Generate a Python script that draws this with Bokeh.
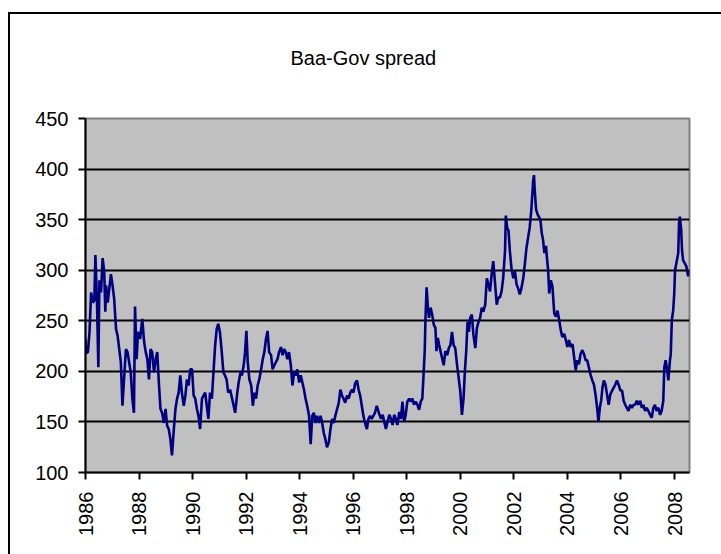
import math
from bokeh.plotting import figure
from bokeh.models import Range1d, FixedTicker, ColumnDataSource
from bokeh.embed import file_html
from bokeh.resources import INLINE

# ---- data (decimal year, spread in bp) ----
years_1986_1991 = [
    1986.00, 1986.02, 1986.09, 1986.15, 1986.21, 1986.27, 1986.33, 1986.37, 1986.43, 1986.48,
    1986.52, 1986.58, 1986.64, 1986.70, 1986.74, 1986.77, 1986.83, 1986.89, 1986.95, 1987.01,
    1987.07, 1987.14, 1987.20, 1987.26, 1987.32, 1987.38, 1987.44, 1987.51, 1987.57, 1987.63,
    1987.69, 1987.75, 1987.81, 1987.85, 1987.91, 1987.96, 1988.04, 1988.12, 1988.19, 1988.25,
    1988.31, 1988.37, 1988.43, 1988.49, 1988.56, 1988.62, 1988.68, 1988.74, 1988.80, 1988.86,
    1988.93, 1988.99, 1989.05, 1989.11, 1989.17, 1989.23, 1989.30, 1989.36, 1989.42, 1989.48,
    1989.54, 1989.60, 1989.67, 1989.73, 1989.79, 1989.85, 1989.91, 1989.98, 1990.04, 1990.10,
    1990.16, 1990.22, 1990.28, 1990.35, 1990.41, 1990.47, 1990.53, 1990.59, 1990.65, 1990.72,
    1990.78, 1990.84, 1990.90, 1990.96, 1991.02, 1991.09, 1991.15, 1991.21, 1991.27, 1991.33,
    1991.40,
]
spread_1986_1991 = [
    232, 218, 219, 239, 278, 268, 270, 315, 268, 204,
    290, 278, 312, 298, 259, 285, 268, 282, 296, 285,
    272, 242, 235, 222, 209, 166, 192, 222, 219, 209,
    199, 173, 159, 264, 212, 239, 232, 252, 229, 219,
    212, 192, 222, 219, 199, 212, 219, 189, 163, 159,
    149, 163, 146, 143, 133, 117, 143, 163, 173, 179,
    196, 179, 166, 176, 192, 186, 202, 202, 176, 173,
    163, 156, 143, 173, 176, 179, 166, 153, 179, 173,
    199, 225, 242, 247, 239, 219, 199, 196, 192, 179,
    182,
]

years_1991_1996 = [
    1991.51, 1991.59, 1991.67, 1991.72, 1991.79, 1991.84, 1991.91, 1991.96, 1992.01, 1992.06,
    1992.12, 1992.19, 1992.25, 1992.31, 1992.37, 1992.43, 1992.49, 1992.56, 1992.62, 1992.68,
    1992.74, 1992.80, 1992.86, 1992.93, 1992.99, 1993.05, 1993.11, 1993.17, 1993.23, 1993.30,
    1993.36, 1993.42, 1993.48, 1993.54, 1993.60, 1993.67, 1993.73, 1993.79, 1993.85, 1993.91,
    1993.98, 1994.04, 1994.10, 1994.16, 1994.22, 1994.28, 1994.35, 1994.41, 1994.47, 1994.53,
    1994.59, 1994.65, 1994.72, 1994.78, 1994.84, 1994.90, 1994.96, 1995.02, 1995.09, 1995.15,
    1995.21, 1995.27, 1995.33, 1995.40, 1995.46, 1995.52, 1995.58, 1995.64, 1995.70, 1995.77,
    1995.83, 1995.89, 1995.95, 1996.01, 1996.07, 1996.14, 1996.20, 1996.26, 1996.32, 1996.38,
    1996.44, 1996.51, 1996.57, 1996.63, 1996.69, 1996.75, 1996.81, 1996.88,
]
spread_1991_1996 = [
    169, 159, 179, 189, 199, 196, 206, 219, 240, 209,
    192, 186, 166, 179, 173, 186, 192, 202, 212, 219,
    232, 240, 219, 216, 202, 206, 209, 212, 219, 224,
    216, 222, 219, 212, 219, 206, 186, 199, 196, 202,
    189, 196, 189, 182, 173, 166, 156, 128, 156, 159,
    149, 156, 149, 156, 149, 139, 133, 125, 130, 143,
    153, 149, 156, 163, 169, 182, 176, 173, 169, 176,
    173, 179, 182, 179, 188, 191, 182, 176, 166, 156,
    149, 143, 153, 156, 153, 156, 159, 166,
]

years_1997_2002 = [
    1996.98, 1997.04, 1997.10, 1997.16, 1997.22, 1997.28, 1997.35, 1997.41, 1997.47, 1997.53,
    1997.59, 1997.65, 1997.72, 1997.78, 1997.84, 1997.90, 1997.96, 1998.02, 1998.09, 1998.15,
    1998.21, 1998.27, 1998.33, 1998.40, 1998.46, 1998.52, 1998.58, 1998.62, 1998.67, 1998.70,
    1998.74, 1998.79, 1998.83, 1998.89, 1998.95, 1999.01, 1999.07, 1999.11, 1999.16, 1999.21,
    1999.26, 1999.32, 1999.38, 1999.44, 1999.51, 1999.57, 1999.63, 1999.69, 1999.75, 1999.81,
    1999.88, 1999.94, 2000.00, 2000.06, 2000.12, 2000.17, 2000.22, 2000.27, 2000.32, 2000.37,
    2000.43, 2000.49, 2000.56, 2000.62, 2000.68, 2000.74, 2000.80, 2000.86, 2000.93, 2000.99,
    2001.05, 2001.11, 2001.17, 2001.23, 2001.30, 2001.36, 2001.42, 2001.48, 2001.54, 2001.60,
    2001.67, 2001.70, 2001.75, 2001.80, 2001.85, 2001.91, 2001.98, 2002.04, 2002.10, 2002.16,
    2002.22, 2002.28, 2002.35, 2002.41, 2002.47, 2002.53, 2002.59, 2002.65, 2002.72, 2002.75,
    2002.79, 2002.83, 2002.89,
]
spread_1997_2002 = [
    157, 153, 157, 150, 143, 150, 157, 153, 147, 157,
    153, 147, 160, 153, 170, 150, 157, 170, 173, 170,
    173, 167, 170, 167, 162, 170, 173, 193, 220, 253,
    283, 263, 253, 263, 256, 246, 243, 220, 233, 226,
    220, 213, 206, 220, 216, 223, 226, 239, 226, 223,
    206, 193, 180, 157, 173, 200, 220, 249, 239, 253,
    256, 236, 223, 243, 249, 253, 263, 259, 266, 292,
    286, 279, 296, 309, 286, 266, 273, 273, 279, 292,
    319, 354, 342, 339, 319, 302, 292, 299, 286, 282,
    276, 282, 292, 306, 322, 332, 342, 359, 388, 394,
    375, 360, 355,
]

years_2003_2008 = [
    2002.99, 2003.04, 2003.09, 2003.14, 2003.20, 2003.23, 2003.28, 2003.32, 2003.38, 2003.44,
    2003.51, 2003.57, 2003.63, 2003.69, 2003.75, 2003.81, 2003.88, 2003.94, 2004.00, 2004.06,
    2004.12, 2004.19, 2004.25, 2004.31, 2004.37, 2004.43, 2004.49, 2004.56, 2004.62, 2004.68,
    2004.74, 2004.80, 2004.86, 2004.93, 2004.99, 2005.05, 2005.11, 2005.16, 2005.21, 2005.26,
    2005.31, 2005.36, 2005.42, 2005.48, 2005.54, 2005.60, 2005.67, 2005.73, 2005.79, 2005.85,
    2005.91, 2005.98, 2006.04, 2006.10, 2006.16, 2006.22, 2006.28, 2006.35, 2006.41, 2006.47,
    2006.53, 2006.59, 2006.65, 2006.72, 2006.78, 2006.84, 2006.90, 2006.96, 2007.02, 2007.09,
    2007.15, 2007.21, 2007.27, 2007.33, 2007.40, 2007.46, 2007.52, 2007.58, 2007.62, 2007.67,
    2007.73, 2007.77, 2007.83, 2007.86, 2007.90, 2007.95, 2007.99, 2008.02, 2008.07, 2008.14,
    2008.17, 2008.20, 2008.25, 2008.28, 2008.32, 2008.38, 2008.44, 2008.51, 2008.54,
]
spread_2003_2008 = [
    350, 337, 330, 317, 324, 314, 300, 277, 290, 284,
    257, 254, 260, 251, 241, 234, 237, 231, 224, 231,
    224, 227, 214, 201, 211, 207, 217, 221, 217, 211,
    211, 204, 197, 191, 187, 177, 164, 150, 164, 171,
    184, 191, 187, 177, 167, 177, 181, 184, 187, 191,
    187, 181, 181, 171, 167, 164, 161, 167, 164, 167,
    167, 171, 167, 171, 164, 167, 161, 164, 161, 157,
    154, 164, 167, 161, 164, 157, 161, 171, 204, 211,
    201, 191, 211, 217, 251, 260, 277, 300, 307, 317,
    347, 353, 340, 320, 310, 307, 304, 294, 300,
]

x_tick_years = [1986, 1988, 1990, 1992, 1994, 1996, 1998, 2000, 2002, 2004, 2006, 2008]
x_tick_labels = ["1986", "1988", "1990", "1992", "1994", "1996",
                 "1998", "2000", "2002", "2004", "2006", "2008"]
y_ticks = [100, 150, 200, 250, 300, 350, 400, 450]
chart_title = "Baa-Gov spread"

years = years_1986_1991 + years_1991_1996 + years_1997_2002 + years_2003_2008
spread = spread_1986_1991 + spread_1991_1996 + spread_1997_2002 + spread_2003_2008
source = ColumnDataSource(data=dict(year=years, spread=spread))

FONT = "Liberation Sans"

p = figure(width=721, height=554, output_backend="svg", toolbar_location=None,
           x_range=Range1d(1986, 2008.56), y_range=Range1d(100, 450),
           min_border_left=85, min_border_right=32, min_border_top=118,
           min_border_bottom=82)

# outer chart-area frame: two black lines drawn in the page background,
# visible through a transparent outer border of the plot canvas
p.border_fill_color = None
p.styles = {
    "background-color": "#ffffff",
    "background-image": "linear-gradient(#000000, #000000), linear-gradient(#000000, #000000)",
    "background-position": "8px 12px, 8px 12px",
    "background-size": "2px 700px, 800px 2px",
    "background-repeat": "no-repeat, no-repeat",
}

p.background_fill_color = "#c0c0c0"
p.outline_line_color = "#808080"
p.outline_line_width = 2

p.line(x="year", y="spread", source=source, line_color="#000080", line_width=2.6)

# title (centred on the whole chart area, not on the plot frame);
# the trailing empty line lifts it higher without enlarging the top border
p.title.text = chart_title + "\n"
p.title.align = "left"
p.title.offset = 205
p.title.standoff = 56
p.title.text_font = FONT
p.title.text_font_size = "20px"
p.title.text_font_style = "normal"
p.title.text_color = "black"

# axes
p.xaxis.ticker = FixedTicker(ticks=x_tick_years)
p.xaxis.major_label_overrides = {y: l for y, l in zip(x_tick_years, x_tick_labels)}
p.xaxis.major_label_orientation = math.pi / 2
p.xaxis.major_label_standoff = 12
p.yaxis.ticker = FixedTicker(ticks=y_ticks)
p.yaxis.major_label_standoff = 10
for ax in (p.xaxis, p.yaxis):
    ax.axis_line_color = "black"
    ax.axis_line_width = 2
    ax.major_tick_line_color = "black"
    ax.major_tick_line_width = 2
    ax.major_tick_out = 7
    ax.major_tick_in = 0
    ax.minor_tick_line_color = None
    ax.major_label_text_font = FONT
    ax.major_label_text_font_size = "20px"
    ax.major_label_text_color = "black"

# grid
p.xgrid.visible = False
p.ygrid.ticker = FixedTicker(ticks=[t for t in y_ticks if 100 < t < 450])
p.ygrid.grid_line_color = "black"
p.ygrid.grid_line_width = 2

open("out.html", "w").write(file_html(p, INLINE))
